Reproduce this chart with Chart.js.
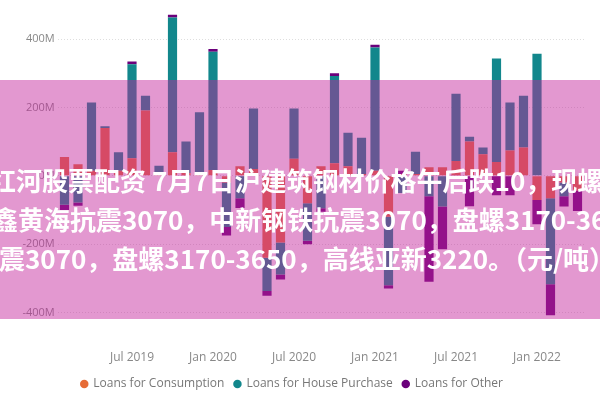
<!DOCTYPE html>
<html>
<head>
<meta charset="utf-8">
<script src="https://cdn.jsdelivr.net/npm/chart.js@4/dist/chart.umd.min.js"></script>
<style>
  html,body{margin:0;padding:0;background:#fff;}
  #wrap{position:relative;width:600px;height:400px;overflow:hidden;}
  #c{position:absolute;left:0;top:0;}
  #overlay{position:absolute;left:0;top:80px;width:600px;height:239px;background:rgba(196,36,156,0.47);}
  .ln{position:absolute;white-space:nowrap;color:#fff;font-family:"Noto Sans CJK SC","Noto Sans",sans-serif;font-weight:bold;font-size:26px;line-height:26px;}
</style>
</head>
<body>
<div id="wrap">
  <canvas id="c" width="600" height="400"></canvas>
  <div id="overlay"></div>
  <div class="ln" style="left:-10px;top:167px;">红河股票配资 7月7日沪建筑钢材价格午后跌10，现螺纹</div>
  <div class="ln" style="left:-8px;top:206px;">鑫黄海抗震3070，中新钢铁抗震3070，盘螺3170-3650，高线</div>
  <div class="ln" style="left:-1px;top:245px;">震3070，盘螺3170-3650，高线亚新3220。（元/吨）</div>
</div>
<script>
const months = ["Feb 2019","Mar 2019","Apr 2019","May 2019","Jun 2019","Jul 2019","Aug 2019","Sep 2019","Oct 2019","Nov 2019","Dec 2019",
  "Jan 2020","Feb 2020","Mar 2020","Apr 2020","May 2020","Jun 2020","Jul 2020","Aug 2020","Sep 2020","Oct 2020","Nov 2020","Dec 2020",
  "Jan 2021","Feb 2021","Mar 2021","Apr 2021","May 2021","Jun 2021","Jul 2021","Aug 2021","Sep 2021","Oct 2021","Nov 2021","Dec 2021",
  "Jan 2022","Feb 2022","Mar 2022","Apr 2022"];
const consumption = [55,34,15,140,15,51,191,5,69,8,6,17,-20,28,20,-240,-195,50,-80,28,37,28,5,15,-120,5,5,25,25,43,100,63,40,74,83,-71,-66,-20,-43];
const housePurchase = [-85,-78,199,5,54,275,43,24,394,92,180,346,-130,-66,177,-97,-94,147,-110,-95,255,98,106,360,-200,-50,65,-60,-90,197,14,20,303,140,151,357,-251,-40,0];
const other = [-15,-10,0,0,0,8,0,0,8,0,0,8,-25,-28,0,-14,-14,0,-10,-10,8,0,0,8,-10,10,0,-250,-125,0,-89,0,-57,-57,0,-71,-91,-30,-60];
const yTicks = [-400,-200,0,200,400];
const seriesNames = ["Loans for Consumption","Loans for House Purchase","Loans for Other"];

new Chart(document.getElementById('c'), {
  type: 'bar',
  data: {
    labels: months,
    datasets: [
      {label: seriesNames[0], data: consumption, backgroundColor: '#E66C37'},
      {label: seriesNames[1], data: housePurchase, backgroundColor: '#12878C'},
      {label: seriesNames[2], data: other, backgroundColor: '#6B007B'}
    ]
  },
  options: {
    responsive: false,
    animation: false,
    devicePixelRatio: 1,
    layout: {padding: {left: 0, right: 15.75, top: 2, bottom: 0}},
    datasets: {bar: {barPercentage: 0.68, categoryPercentage: 1}},
    plugins: {
      legend: {
        position: 'bottom',
        labels: {usePointStyle: true, pointStyle: 'circle', boxWidth: 6, boxHeight: 6,
                 font: {family: 'Open Sans', size: 12}, color: '#777', padding: 10}
      },
      tooltip: {enabled: false}
    },
    scales: {
      x: {
        stacked: true,
        grid: {display: false, drawTicks: false},
        border: {display: false},
        ticks: {autoSkip: false, maxRotation: 0, padding: 20, color: '#888',
                font: {family: 'Open Sans', size: 12},
                callback: function(v, i) { const l = months[i]; return (l.startsWith('Jan') || l.startsWith('Jul')) ? l : ''; }},
        afterFit: function(s) { s.height = 38; }
      },
      y: {
        stacked: true,
        min: -451, max: 486,
        afterBuildTicks: function(s) { s.ticks = yTicks.map(v => ({value: v})); },
        afterFit: function(s) { s.width = 57.75; },
        grid: {color: 'rgba(0,0,0,0.13)', drawTicks: false},
        border: {display: false, dash: [1,2]},
        ticks: {padding: 3, color: '#888', font: {family: 'Open Sans', size: 11},
                callback: function(v) { return v + 'M'; }}
      }
    }
  }
});
</script>
</body>
</html>
